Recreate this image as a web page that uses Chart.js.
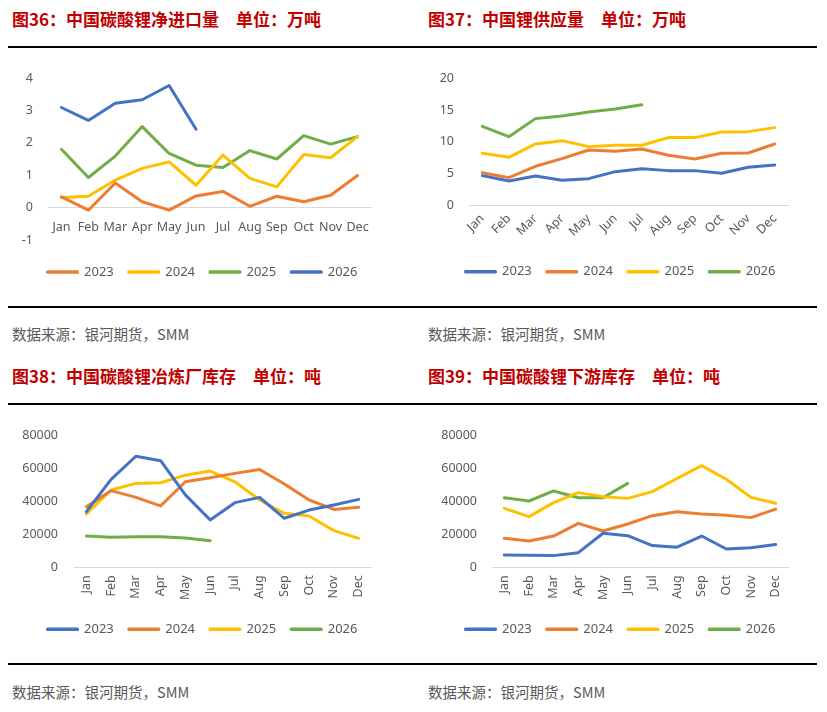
<!DOCTYPE html>
<html><head><meta charset="utf-8">
<script src="https://cdn.jsdelivr.net/npm/chart.js@4"></script>
<style>
html,body{margin:0;padding:0;background:#fff;}
#page{position:relative;width:827px;height:712px;overflow:hidden;background:#fff;}
.title{position:absolute;font-family:"Noto Sans CJK SC";font-weight:bold;font-size:17px;color:#C00000;white-space:pre;line-height:20px;}
.src{position:absolute;font-family:"Noto Sans CJK SC";font-size:14.5px;color:#595959;white-space:pre;line-height:18px;}
.rule{position:absolute;left:8px;width:809px;height:2px;background:#000;}
.box{position:absolute;}
</style></head>
<body><div id="page">
<div class="title" style="left:12px;top:9px">图36：中国碳酸锂净进口量　单位：万吨</div>
<div class="title" style="left:428px;top:9px">图37：中国锂供应量　单位：万吨</div>
<div class="rule" style="top:45.7px"></div>
<div class="box" id="b1"><canvas id="c1"></canvas></div>
<div class="box" id="b2"><canvas id="c2"></canvas></div>
<div class="rule" style="top:305.5px"></div>
<div class="src" style="left:12px;top:325px">数据来源：银河期货，SMM</div>
<div class="src" style="left:428px;top:325px">数据来源：银河期货，SMM</div>
<div class="title" style="left:12px;top:366px">图38：中国碳酸锂冶炼厂库存　单位：吨</div>
<div class="title" style="left:428px;top:366px">图39：中国碳酸锂下游库存　单位：吨</div>
<div class="rule" style="top:403px"></div>
<div class="box" id="b3"><canvas id="c3"></canvas></div>
<div class="box" id="b4"><canvas id="c4"></canvas></div>
<div class="rule" style="top:663.3px"></div>
<div class="src" style="left:12px;top:683px">数据来源：银河期货，SMM</div>
<div class="src" style="left:428px;top:683px">数据来源：银河期货，SMM</div>
</div>
<script>
// ---------- data ----------
const months = ['Jan','Feb','Mar','Apr','May','Jun','Jul','Aug','Sep','Oct','Nov','Dec'];
const seriesNames = ['2023','2024','2025','2026'];

// 图36 净进口量 (万吨)
const imp2023 = [0.33,-0.08,0.76,0.18,-0.08,0.36,0.50,0.04,0.35,0.18,0.38,0.99];
const imp2024 = [0.31,0.35,0.85,1.21,1.41,0.69,1.62,0.90,0.64,1.64,1.54,2.19];
const imp2025 = [1.80,0.93,1.59,2.50,1.67,1.31,1.24,1.76,1.50,2.22,1.96,2.19];
const imp2026 = [3.09,2.69,3.22,3.33,3.77,2.42];
const impTicks = [-1,0,1,2,3,4];

// 图37 锂供应量 (万吨)
const sup2023 = [4.67,3.83,4.62,3.94,4.20,5.30,5.77,5.46,5.46,5.04,5.98,6.35];
const sup2024 = [5.14,4.36,6.14,7.35,8.71,8.50,8.87,7.87,7.30,8.19,8.24,9.66];
const sup2025 = [8.19,7.56,9.66,10.18,9.24,9.45,9.45,10.66,10.66,11.55,11.60,12.23];
const sup2026 = [12.44,10.81,13.65,14.07,14.70,15.17,15.85];
const supTicks = [0,5,10,15,20];

// 图38 冶炼厂库存 (吨)
const sm2023 = [33800,53500,67500,64800,44000,28800,39300,42500,29800,34800,37900,41300];
const sm2024 = [36800,46600,42500,37300,52000,54500,57100,59500,50600,40900,35200,36500];
const sm2025 = [32400,47000,51000,51400,56000,58500,52000,40900,32800,31200,22300,17600];
const sm2026 = [19000,18200,18600,18600,17800,16200];
const smTicks = [0,20000,40000,60000,80000];

// 图39 下游库存 (吨)
const ds2023 = [7500,7300,7100,8900,20700,19200,13200,12200,19000,11100,11900,13800];
const ds2024 = [17600,16000,19000,26700,22100,26300,31400,33800,32400,31600,30200,35400];
const ds2025 = [35800,30800,39300,45400,42900,41900,46000,54000,61800,53500,42500,38900];
const ds2026 = [42300,40300,46400,42300,42300,51000];
const dsTicks = [0,20000,40000,60000,80000];

// ---------- style ----------
const BLUE='#4472C4', ORANGE='#ED7D31', GOLD='#FFC000', GREEN='#70AD47';
const TICK_COLOR='#595959';
const FONT='"Noto Sans", "Noto Sans CJK SC", sans-serif';

const legendFix = {
  id: 'legendFix',
  afterInit(chart, args, opts) {
    const lg = chart.legend;
    if (!lg) return;
    const fit = lg.fit;
    lg.fit = function(){ this.maxWidth = 2000; fit.call(this); this.height = opts.height; };
  },
  afterLayout(chart, args, opts) {
    const lg = chart.legend;
    if (!lg) return;
    lg.top = opts.top; lg.bottom = opts.top + lg.height;
    lg.left = opts.cx - 200; lg.right = opts.cx + 200; lg.width = 400;
  }
};

function ds(label, data, color){
  return {label, data, borderColor: color, backgroundColor: color, borderWidth: 3,
    pointRadius: 0, pointHoverRadius: 0, tension: 0, fill: false,
    borderCapStyle: 'round', borderJoinStyle: 'round'};
}

function make(id, boxId, g, datasets, ticks, rot, xPos){
  const box = document.getElementById(boxId);
  box.style.left = g.cl + 'px'; box.style.top = g.ct + 'px';
  box.style.width = g.W + 'px'; box.style.height = g.H + 'px';
  const c = document.getElementById(id);
  c.width = g.W; c.height = g.H; c.style.width = g.W + 'px'; c.style.height = g.H + 'px';
  const pt = g.plotTop - g.ct;
  const pr = g.cl + g.W - g.plotR;
  const pb = g.H - g.legH - g.xH - (g.plotBottom - g.ct);
  const yw = g.plotL - g.cl;
  const legTop = g.legCY - g.ct - 15 - 6.5;
  new Chart(c, {
    type: 'line',
    data: {labels: months, datasets},
    plugins: [legendFix],
    options: {
      responsive: false, maintainAspectRatio: false, animation: false,
      layout: {padding: {left: 0, right: pr, top: pt, bottom: pb}},
      scales: {
        x: {
          type: 'category', offset: true, position: xPos,
          grid: {display: false, drawTicks: false},
          border: {display: true, color: '#D9D9D9', width: 1},
          ticks: {color: TICK_COLOR, font: {family: FONT, size: 12.5}, autoSkip: false,
                  padding: g.xPad, minRotation: rot, maxRotation: rot},
          afterFit: (s) => { s.height = g.xH; }
        },
        y: {
          min: ticks[0], max: ticks[ticks.length-1],
          afterBuildTicks: (s) => { s.ticks = ticks.map(v => ({value: v})); },
          grid: {display: false, drawTicks: false},
          border: {display: false},
          ticks: {color: TICK_COLOR, font: {family: FONT, size: 12.5}, padding: g.yPad,
                  callback: (v) => String(v)},
          afterFit: (s) => { s.width = yw; }
        }
      },
      plugins: {
        legend: {
          position: 'bottom',
          labels: {boxWidth: 30, boxHeight: 0.5, padding: 15, color: TICK_COLOR,
                   font: {family: FONT, size: 13}}
        },
        legendFix: {height: g.legH, top: legTop, cx: g.legCX - g.cl},
        tooltip: {enabled: false}
      }
    }
  });
}

const g1 = {cl:0, ct:50, W:410, H:240, plotL:48, plotR:371, plotTop:78, plotBottom:240, legCX:202.5, legCY:272, legH:40, xH:0, xPad:12, yPad:15};
const g2 = {cl:415, ct:50, W:412, H:240, plotL:469, plotR:788, plotTop:78.3, plotBottom:205.3, legCX:620.5, legCY:271.7, legH:40, xH:40, xPad:6, yPad:15};
const g3 = {cl:0, ct:410, W:410, H:240, plotL:74, plotR:371, plotTop:435.7, plotBottom:567.3, legCX:202.5, legCY:629.3, legH:40, xH:40, xPad:8, yPad:16};
const g4 = {cl:415, ct:410, W:412, H:240, plotL:492, plotR:788, plotTop:435.7, plotBottom:567.3, legCX:620.5, legCY:629.3, legH:40, xH:40, xPad:8, yPad:15};

make('c1','b1',g1,[
  ds(seriesNames[0], imp2023, ORANGE),
  ds(seriesNames[1], imp2024, GOLD),
  ds(seriesNames[2], imp2025, GREEN),
  ds(seriesNames[3], imp2026, BLUE)
], impTicks, 0, {y: 0});

make('c2','b2',g2,[
  ds(seriesNames[0], sup2023, BLUE),
  ds(seriesNames[1], sup2024, ORANGE),
  ds(seriesNames[2], sup2025, GOLD),
  ds(seriesNames[3], sup2026, GREEN)
], supTicks, 45, 'bottom');

make('c3','b3',g3,[
  ds(seriesNames[0], sm2023, BLUE),
  ds(seriesNames[1], sm2024, ORANGE),
  ds(seriesNames[2], sm2025, GOLD),
  ds(seriesNames[3], sm2026, GREEN)
], smTicks, 90, 'bottom');

make('c4','b4',g4,[
  ds(seriesNames[0], ds2023, BLUE),
  ds(seriesNames[1], ds2024, ORANGE),
  ds(seriesNames[2], ds2025, GOLD),
  ds(seriesNames[3], ds2026, GREEN)
], dsTicks, 90, 'bottom');
</script>
</body></html>
